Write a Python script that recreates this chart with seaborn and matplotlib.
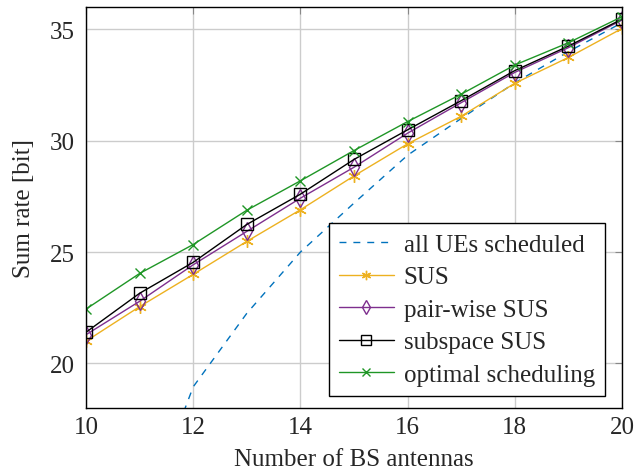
import numpy as np
import pandas as pd
import seaborn as sns
import matplotlib
matplotlib.use("Agg")
import matplotlib.pyplot as plt

# number of BS antennas
antennas = [10, 11, 12, 13, 14, 15, 16, 17, 18, 19, 20]

# sum rates
all_ues = [4.0, 12.6, 18.95, 22.25, 25.0, 27.2, 29.35, 31.0, 32.6, 34.0, 35.3]
sus = [21.0, 22.55, 24.0, 25.48, 26.9, 28.42, 29.86, 31.1, 32.58, 33.74, 35.04]
pairwise_sus = [21.29, 22.79, 24.43, 25.93, 27.42, 28.81, 30.34, 31.71, 33.07, 34.18, 35.42]
subspace_sus = [21.4, 23.15, 24.54, 26.24, 27.6, 29.16, 30.49, 31.8, 33.15, 34.25, 35.46]
optimal = [22.44, 24.04, 25.34, 26.88, 28.2, 29.56, 30.86, 32.09, 33.4, 34.4, 35.57]

series = {
    "all UEs scheduled": all_ues,
    "SUS": sus,
    "pair-wise SUS": pairwise_sus,
    "subspace SUS": subspace_sus,
    "optimal scheduling": optimal,
}

styles = {
    "all UEs scheduled": dict(color="#0072BD", linestyle=(0, (5, 5)), marker=None, markersize=0),
    "SUS": dict(color="#EDB120", linestyle="-", marker=(6, 2, 0), markersize=9),
    "pair-wise SUS": dict(color="#7E2F8E", linestyle="-", marker="d", markersize=9),
    "subspace SUS": dict(color="black", linestyle="-", marker="s", markersize=9),
    "optimal scheduling": dict(color="#1f9626", linestyle="-", marker="x", markersize=7),
}

sns.set_style("white")
plt.rcParams["font.family"] = ["Liberation Serif", "DejaVu Serif"]

FS = 18

fig = plt.figure(figsize=(6.37, 4.77), dpi=100)
ax = fig.add_axes([0.135, 0.1426, 0.8415, 0.8404])

for name, vals in series.items():
    st = styles[name]
    df = pd.DataFrame({"x": antennas, "y": vals})
    mfc = "none" if st["marker"] in ("d", "s") else st["color"]
    sns.lineplot(data=df, x="x", y="y", ax=ax, label=name, color=st["color"],
                 linestyle=st["linestyle"], linewidth=1.0, marker=st["marker"],
                 markersize=st["markersize"], markerfacecolor=mfc,
                 markeredgecolor=st["color"], markeredgewidth=1.0)

ax.set_xlim(10, 20)
ax.set_ylim(18, 36)
ax.set_xticks([10, 12, 14, 16, 18, 20])
ax.set_yticks([20, 25, 30, 35])
ax.grid(True, color="#cccccc", linewidth=1.0)
ax.set_axisbelow(True)
ax.tick_params(direction="in", length=5, color="#888888", labelsize=FS,
               top=True, right=True)
ax.tick_params(axis="x", pad=6)
ax.tick_params(axis="y", pad=8)
for sp in ax.spines.values():
    sp.set_color("black")
    sp.set_linewidth(1.0)

ax.set_xlabel("Number of BS antennas", fontsize=FS, labelpad=7)
ax.set_ylabel("Sum rate [bit]", fontsize=FS, labelpad=11)

leg = ax.legend(loc="lower right", bbox_to_anchor=(0.968, 0.03), fontsize=FS,
                frameon=True, fancybox=False, edgecolor="black", framealpha=1,
                handlelength=2.2, handletextpad=0.4, labelspacing=0.4,
                borderpad=0.4, borderaxespad=0.0)
leg.get_frame().set_linewidth(1.0)
for h in leg.legend_handles:
    if h.get_marker() not in (None, "None", ""):
        h.set_markersize(h.get_markersize() * 0.75)

fig.savefig("out.png", dpi=100)
